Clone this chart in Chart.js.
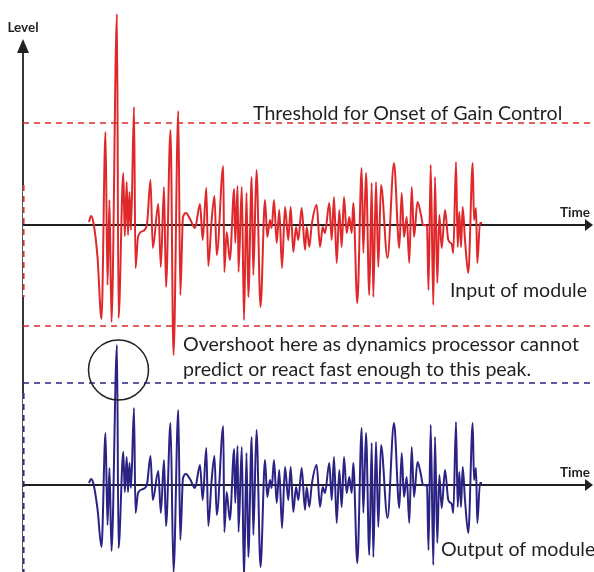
<!DOCTYPE html>
<html>
<head>
<meta charset="utf-8">
<title>Input and output of a dynamics module</title>
<script src="https://cdn.jsdelivr.net/npm/chart.js@4.4.0/dist/chart.umd.min.js"></script>
<style>
  html, body { margin: 0; padding: 0; background: #fff; }
  #wrap { position: relative; width: 594px; height: 572px; }
</style>
</head>
<body>
<div id="wrap"><canvas id="chart"></canvas></div>
<script>
// Turning points of the waveform (time units = px from the level axis)
const time = [
  66, 68, 70.5, 74.5, 78.5, 82.5, 84.5, 86.5, 88.5, 94,
  95.5, 100.3, 101.8, 103.7, 105, 106.5, 108, 111, 112.5, 115,
  120, 124, 127.5, 129.8, 135.3, 137.8, 141, 143, 147.5, 150.5,
  155.3, 157.3, 160, 163, 167, 172, 177, 179.7, 183.3, 185.3,
  188.5, 191.5, 193.7, 200.3, 201.3, 203.7, 206.8, 211.2, 212.2, 214.6,
  215.5, 218.8, 221, 223.5, 225.3, 228.7, 230.3, 233.5, 237.5, 242,
  244.3, 247, 248.7, 251, 253.7, 256.3, 259, 262, 265.3, 267.7,
  270.3, 273, 275.3, 278.7, 282, 283.7, 286.3, 288.7, 293.7, 297,
  299.7, 302, 306.3, 308.7, 311, 313.7, 316.3, 318.7, 321, 323.7,
  326.3, 328.7, 330.3, 334.3, 338.7, 340.3, 343, 346.3, 348.7, 350.3,
  353, 355.3, 358, 364.5, 371, 376.3, 378.7, 381, 383.7, 386.3,
  388.7, 391, 394.5, 398, 400, 404, 405.5, 407.7, 410.3, 412,
  414.3, 416.3, 418.7, 422, 425.3, 428.7, 430.3, 433, 434.7, 436.3,
  438, 439.7, 442, 445.3, 449.7, 451, 453, 454.3, 457, 459
];

// Input of module (level)
const inputLevel = [
  3, 9, 2, -32, -94, 93, -60, 25, -97, 211,
  -93, 52, -11, 43, -10, 33, -5, 118, -43, -12,
  -6, 1, 45, -23, 21, -42, 38, -62, 95, -130,
  114, -70, 8, 12, 6, -3, 21, -15, 37, -41,
  3, 29, -30, 59, -47, -7, -35, 36, -18, 39,
  -47, 38, -95, 32, -72, 48, -50, 55, -82, 25,
  -12, 5, -3, 25, -18, 15, -43, 18, -15, 18,
  -27, -2, -15, 17, -25, -2, -22, 0, 20, -22,
  -2, -8, 22, -15, 28, -38, 15, -22, 28, -8,
  8, -8, 22, -78, 57, -28, 52, -70, 42, -72,
  43, -42, 40, -33, 62, -23, 32, -12, 8, -38,
  38, -12, 23, 10, 0, -1, -65, 60, -80, 48,
  -58, 10, -23, 15, -15, -19, -28, 63, -22, 13,
  -22, 18, -15, -48, 62, 5, 17, -38, 2, 2
];

// Output of module (level) - gain pulled down after the first burst
const outputLevel = [
  2, 6, 1, -24, -62, 52, -40, 17, -66, 140,
  -63, 33, -7, 28, -7, 22, -3, 77, -28, -8,
  -4, 1, 29, -15, 14, -28, 25, -41, 62, -87,
  75, -55, 7, 11, 6, -3, 20, -15, 37, -41,
  3, 29, -30, 59, -47, -7, -35, 36, -18, 39,
  -47, 38, -95, 32, -72, 48, -50, 55, -82, 25,
  -12, 5, -3, 25, -18, 15, -43, 18, -15, 18,
  -27, -2, -15, 17, -25, -2, -22, 0, 20, -22,
  -2, -8, 22, -15, 28, -38, 15, -22, 28, -8,
  8, -8, 22, -78, 57, -28, 52, -70, 42, -72,
  43, -42, 40, -33, 62, -23, 32, -12, 8, -38,
  38, -12, 23, 10, 0, -1, -65, 60, -80, 48,
  -58, 10, -23, 15, -15, -19, -28, 63, -22, 13,
  -22, 18, -15, -48, 62, 5, 17, -38, 2, 2
];

const inputThresholds = [102, -101];
const outputThreshold = 102;
const timeSpan = [0, 571];

const RED = '#e0282b';
const BLUE = '#2b2384';
const INK = '#231f20';
const TEXT_FONT = '19.6px Lato, "Open Sans", sans-serif';
const LABEL_FONT = 'bold 13.5px Lato, "Open Sans", sans-serif';

function pairs(values) {
  return values.map((v, i) => ({ x: time[i], y: v }));
}

function flat(level) {
  return timeSpan.map(t => ({ x: t, y: level }));
}

function seg(ctx, x1, y1, x2, y2) {
  ctx.beginPath();
  ctx.moveTo(x1, y1);
  ctx.lineTo(x2, y2);
  ctx.stroke();
}

function tri(ctx, pts) {
  ctx.beginPath();
  ctx.moveTo(pts[0], pts[1]);
  ctx.lineTo(pts[2], pts[3]);
  ctx.lineTo(pts[4], pts[5]);
  ctx.closePath();
  ctx.fill();
}

/**
 * Axes with arrow heads, labels, notes and the overshoot circle
 */
const annotations = {
  id: 'annotations',
  beforeDatasetsDraw(chart) {
    const ctx = chart.ctx;
    const x0 = chart.scales.x.getPixelForValue(0);
    const yIn = chart.scales.yIn.getPixelForValue(0);
    const yOut = chart.scales.yOut.getPixelForValue(0);
    const bottom = chart.chartArea.bottom;

    ctx.save();
    ctx.strokeStyle = INK;
    ctx.fillStyle = INK;

    // level axis, broken up the way the original is
    ctx.lineWidth = 1.8;
    seg(ctx, x0, 50, x0, 185);
    seg(ctx, x0, 297, x0, 393);
    ctx.lineWidth = 1;
    ctx.strokeStyle = '#555';
    seg(ctx, x0 - 0.5, 185, x0 - 0.5, 297);
    seg(ctx, x0 - 0.5, 393, x0 - 0.5, bottom);
    ctx.lineWidth = 1.5;
    ctx.setLineDash([6, 5]);
    ctx.strokeStyle = RED;
    seg(ctx, x0 + 0.8, 185, x0 + 0.8, 297);
    ctx.strokeStyle = BLUE;
    seg(ctx, x0 + 0.8, 393, x0 + 0.8, bottom);
    ctx.setLineDash([]);
    tri(ctx, [x0, 39, x0 - 6, 53, x0 + 6, 53]);

    // time axes
    ctx.strokeStyle = INK;
    ctx.lineWidth = 1.8;
    [yIn, yOut].forEach(y => {
      seg(ctx, x0, y, 587, y);
      tri(ctx, [593, y, 585, y - 6, 585, y + 6]);
    });
    ctx.restore();
  },
  afterDatasetsDraw(chart) {
    const ctx = chart.ctx;
    const x0 = chart.scales.x.getPixelForValue(0);
    const yIn = chart.scales.yIn.getPixelForValue(0);
    const yOut = chart.scales.yOut.getPixelForValue(0);

    ctx.save();
    ctx.fillStyle = INK;
    ctx.textBaseline = 'alphabetic';

    ctx.font = LABEL_FONT;
    ctx.textAlign = 'center';
    ctx.fillText('Level', x0, 32);
    ctx.textAlign = 'right';
    ctx.fillText('Time', 590, yIn - 8);
    ctx.fillText('Time', 590, yOut - 8);

    ctx.font = TEXT_FONT;
    ctx.textAlign = 'left';
    ctx.fillText('Threshold for Onset of Gain Control', 253, 120);
    ctx.fillText('Input of module', 450, 297);
    ctx.fillText('Overshoot here as dynamics processor cannot', 183, 351);
    ctx.fillText('predict or react fast enough to this peak.', 183, 376);
    ctx.fillText('Output of module', 441, 556);

    // ring around the overshoot
    ctx.strokeStyle = INK;
    ctx.lineWidth = 1.5;
    ctx.beginPath();
    ctx.arc(118.5, 370, 30, 0, Math.PI * 2);
    ctx.stroke();
    ctx.restore();
  }
};

document.addEventListener('DOMContentLoaded', function() {
  const wave = {
    borderWidth: 2,
    pointRadius: 0,
    cubicInterpolationMode: 'monotone',
    clip: false,
    order: 0
  };
  const dashed = {
    borderWidth: 1.6,
    borderDash: [6, 5],
    pointRadius: 0,
    clip: false,
    order: 1
  };

  new Chart(document.getElementById('chart'), {
    type: 'line',
    data: {
      datasets: [
        Object.assign({ label: 'Input of module', data: pairs(inputLevel), yAxisID: 'yIn', borderColor: RED }, wave),
        Object.assign({ label: 'Output of module', data: pairs(outputLevel), yAxisID: 'yOut', borderColor: BLUE }, wave),
        Object.assign({ label: 'Threshold', data: flat(inputThresholds[0]), yAxisID: 'yIn', borderColor: RED }, dashed),
        Object.assign({ label: 'Threshold (negative)', data: flat(inputThresholds[1]), yAxisID: 'yIn', borderColor: RED }, dashed),
        Object.assign({ label: 'Output threshold', data: flat(outputThreshold), yAxisID: 'yOut', borderColor: BLUE }, dashed)
      ]
    },
    options: {
      responsive: true,
      maintainAspectRatio: false,
      animation: false,
      devicePixelRatio: 1,
      layout: { padding: 0 },
      plugins: {
        legend: { display: false },
        tooltip: { enabled: false }
      },
      scales: {
        x: { type: 'linear', min: -23, max: 571, display: false },
        yIn: { type: 'linear', min: -347, max: 225, display: false },
        yOut: { type: 'linear', min: -87, max: 485, display: false }
      }
    },
    plugins: [annotations]
  });
});
</script>
</body>
</html>
